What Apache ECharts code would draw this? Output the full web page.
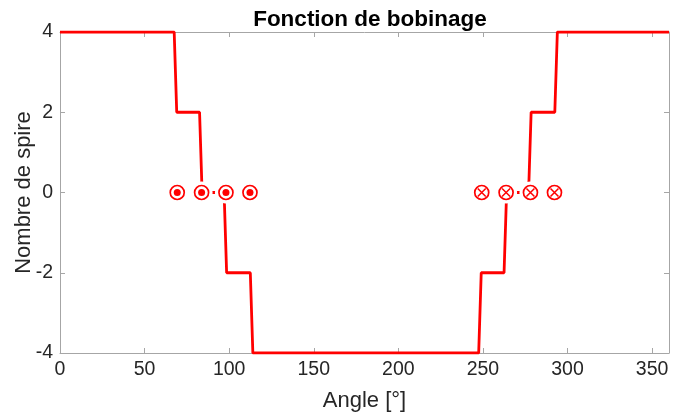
<!DOCTYPE html>
<html>
<head>
<meta charset="utf-8">
<script src="https://cdn.jsdelivr.net/npm/echarts@6/dist/echarts.min.js"></script>
<style>
  html, body { margin: 0; padding: 0; background: #fff; }
  #chart { width: 675px; height: 418px; }
</style>
</head>
<body>
<div id="chart"></div>
<script>
// fonction de bobinage (angle en degres, nombre de spires)
var angles = [0, 67.5, 69, 82.5, 84, 97, 98.5, 112.5, 114, 247.5, 249, 262.5, 264, 277, 278.5, 292.5, 294, 360];
var spires = [4, 4, 2, 2, 0, 0, -2, -2, -4, -4, -2, -2, 0, 0, 2, 2, 4, 4];

// conducteurs : courant sortant (point) et entrant (croix)
var sortantAngles = [69.3, 83.7, 98.1, 112.3];
var entrantAngles = [249.3, 263.7, 278.1, 292.3];

var red = '#ff0000';
var axisGray = '#a6a6a6';
var fontFam = '"Liberation Sans", Arial, sans-serif';

function pts(xs, ys) {
  return xs.map(function (x, i) { return [x, ys[i]]; });
}
function onZero(xs) {
  return xs.map(function (x) { return [x, 0]; });
}

var dom = document.getElementById('chart');
var myChart = echarts.init(dom);

var crossPath = 'path://M0,0L10,10M10,0L0,10';

function boxAxis(extra) {
  var ax = {
    type: 'value',
    axisLine: { show: true, onZero: false, lineStyle: { color: axisGray, width: 1 } },
    axisTick: { show: true, inside: true, length: 5, lineStyle: { color: axisGray } },
    splitLine: { show: false }
  };
  for (var k in extra) ax[k] = extra[k];
  return ax;
}

var option = {
  animation: false,
  title: {
    text: 'Fonction de bobinage',
    left: 365,
    textAlign: 'center',
    top: 3,
    textStyle: { fontFamily: fontFam, fontSize: 22.5, fontWeight: 'bold', color: '#000' }
  },
  grid: { left: 60, right: 6, top: 32, bottom: 65, containLabel: false, outerBoundsMode: 'none' },
  xAxis: [boxAxis({
    min: 0, max: 360, interval: 50,
    name: 'Angle [°]',
    nameLocation: 'middle',
    nameGap: 37,
    nameMoveOverlap: false,
    nameTextStyle: { fontFamily: fontFam, fontSize: 22, color: '#262626' },
    axisLabel: { fontFamily: fontFam, fontSize: 19.5, color: '#262626', margin: 7,
      showMaxLabel: false }
  }), boxAxis({
    position: 'top',
    min: 0, max: 360, interval: 50,
    axisLabel: { show: false }
  })],
  yAxis: [boxAxis({
    min: -4, max: 4, interval: 2,
    name: 'Nombre de spire',
    nameLocation: 'middle',
    nameGap: 25,
    nameMoveOverlap: false,
    nameTextStyle: { fontFamily: fontFam, fontSize: 22, color: '#262626' },
    axisLabel: { fontFamily: fontFam, fontSize: 19.5, color: '#262626', margin: 7 }
  }), boxAxis({
    position: 'right',
    min: -4, max: 4, interval: 2,
    axisLabel: { show: false }
  })],
  series: [{
    type: 'line',
    data: pts(angles, spires),
    symbol: 'none',
    lineStyle: { color: red, width: 2.8 },
    z: 2
  }, {
    // fond blanc autour des conducteurs
    type: 'scatter',
    data: onZero(sortantAngles.concat(entrantAngles)),
    symbol: 'circle',
    symbolSize: 22,
    itemStyle: { color: '#fff', opacity: 1 },
    z: 3
  }, {
    type: 'scatter',
    data: onZero(sortantAngles.concat(entrantAngles)),
    symbol: 'circle',
    symbolSize: 14,
    itemStyle: { color: '#fff', borderColor: red, borderWidth: 1.7, opacity: 1 },
    z: 4
  }, {
    type: 'scatter',
    data: onZero(sortantAngles),
    symbol: 'circle',
    symbolSize: 7,
    itemStyle: { color: red, opacity: 1 },
    z: 5
  }, {
    type: 'scatter',
    data: onZero(entrantAngles),
    symbol: crossPath,
    symbolSize: 8,
    itemStyle: { color: 'none', borderColor: red, borderWidth: 1.5, opacity: 1 },
    z: 5
  }]
};

if (option && typeof option === 'object') {
  myChart.setOption(option, true);
  window.onresize = myChart.resize;
}
</script>
</body>
</html>
